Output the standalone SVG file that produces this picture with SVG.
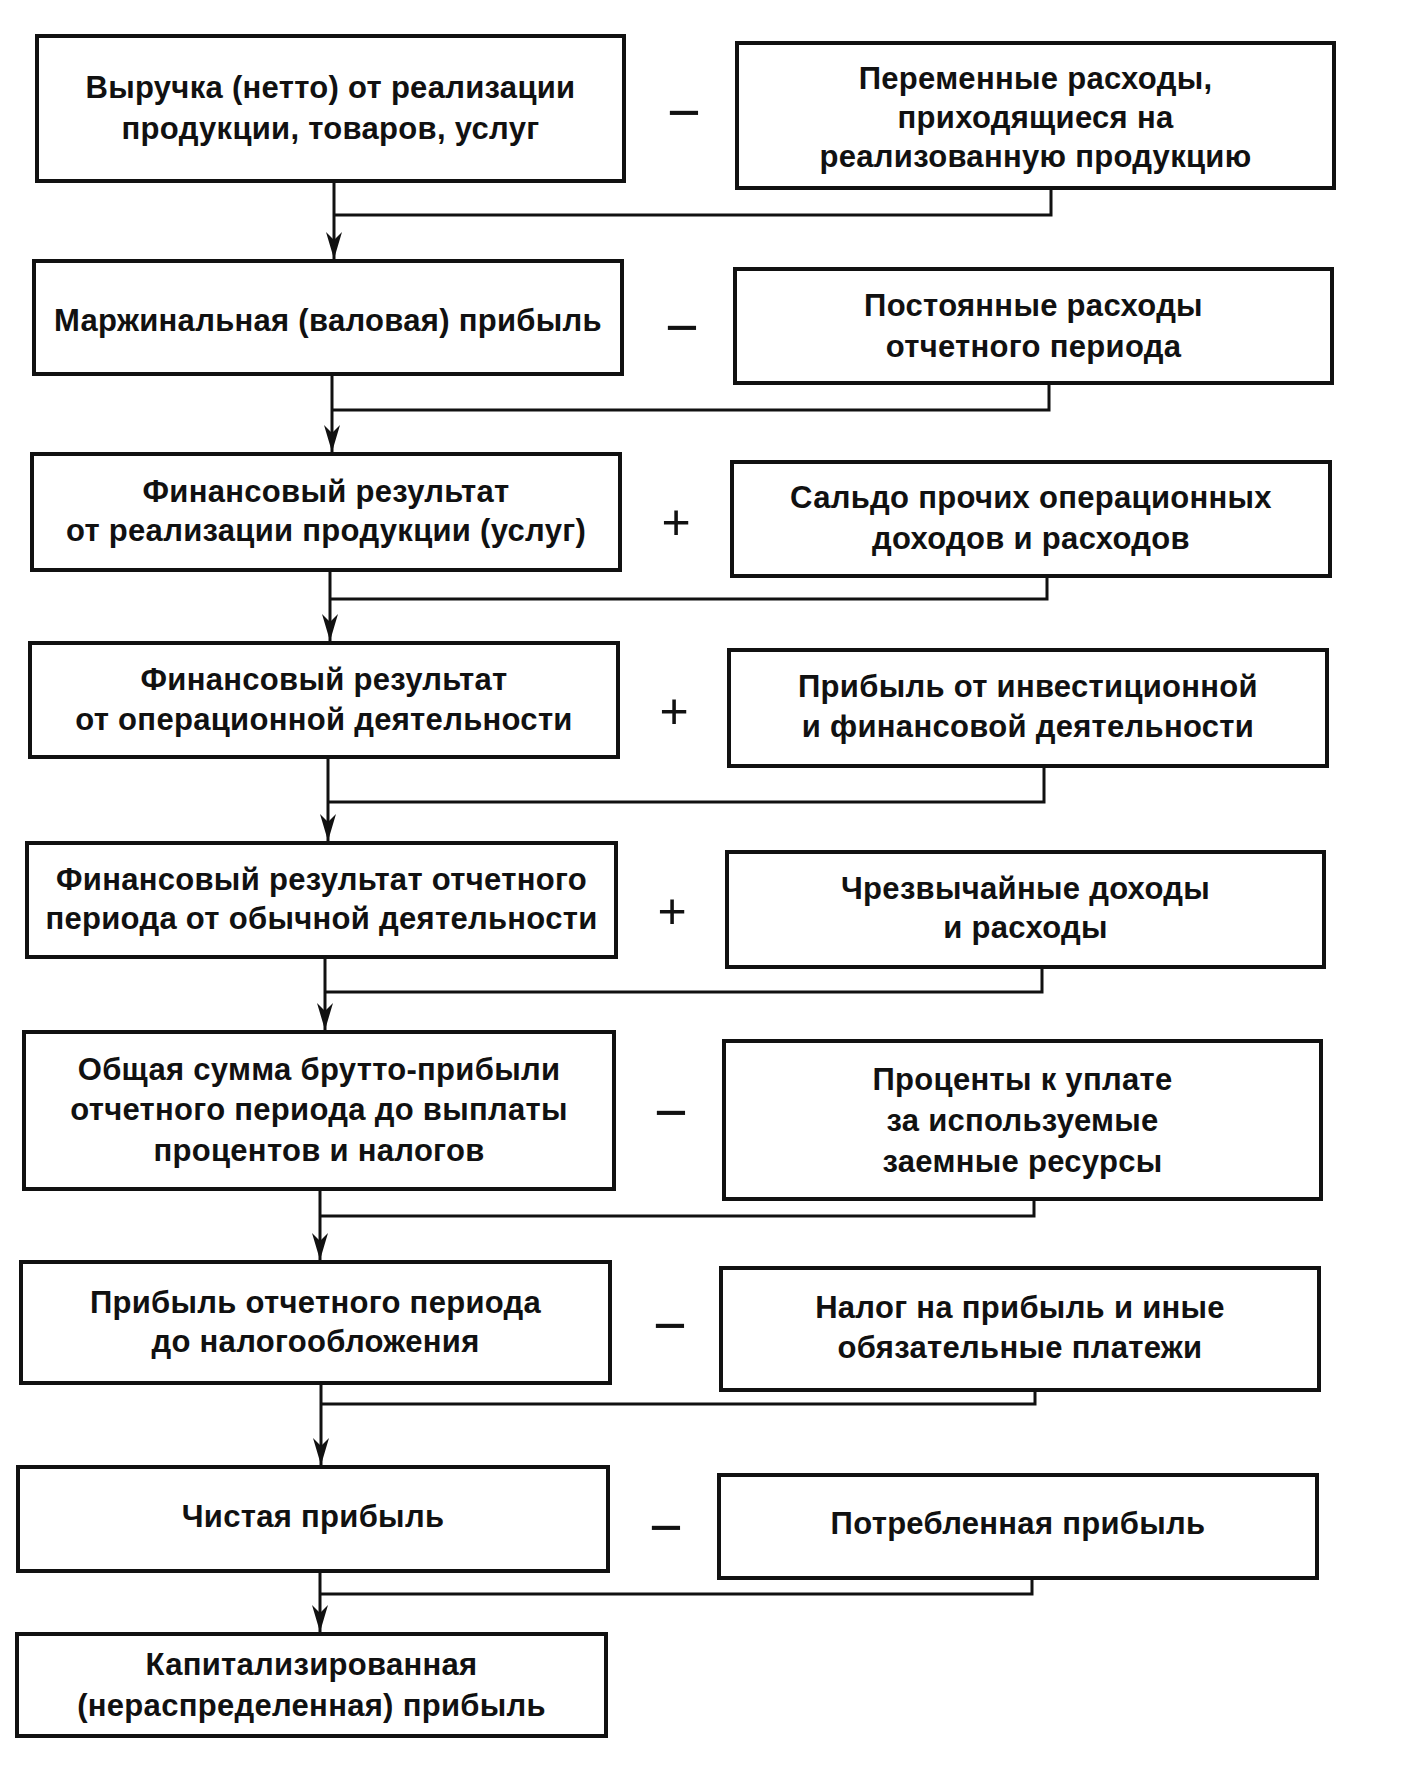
<svg xmlns="http://www.w3.org/2000/svg" width="1427" height="1772" viewBox="0 0 1427 1772">
<defs>
<style>
.box{fill:#fff;stroke:#111;stroke-width:4}
.t{font-family:"Liberation Sans","Arial",sans-serif;font-size:31px;font-weight:bold;letter-spacing:0.3px;fill:#111;text-anchor:middle}
.op{font-family:"Liberation Sans","Arial",sans-serif;fill:#111;text-anchor:middle}
.ln{fill:none;stroke:#111;stroke-width:3}
</style>
<marker id="arr" markerUnits="userSpaceOnUse" markerWidth="30" markerHeight="20" viewBox="-28 -10 30 20" refX="0" refY="0" orient="auto">
<path d="M-27,-8 L-19,0 L-27,8 L0,0 Z" fill="#111"/>
</marker>
</defs>
<rect width="1427" height="1772" fill="#fff"/>

<g id="connectors">
<path class="ln" d="M334,181 V259" marker-end="url(#arr)"/>
<path class="ln" d="M1051,188 V215 H334"/>
<path class="ln" d="M332,374 V452" marker-end="url(#arr)"/>
<path class="ln" d="M1049,383 V410 H332"/>
<path class="ln" d="M330,570 V641" marker-end="url(#arr)"/>
<path class="ln" d="M1047,576 V599 H330"/>
<path class="ln" d="M328,757 V841" marker-end="url(#arr)"/>
<path class="ln" d="M1044,766 V802 H328"/>
<path class="ln" d="M325,957 V1030" marker-end="url(#arr)"/>
<path class="ln" d="M1042,967 V992 H325"/>
<path class="ln" d="M320,1189 V1260" marker-end="url(#arr)"/>
<path class="ln" d="M1034,1199 V1216 H320"/>
<path class="ln" d="M321,1383 V1465" marker-end="url(#arr)"/>
<path class="ln" d="M1035,1390 V1404 H321"/>
<path class="ln" d="M320,1571 V1632" marker-end="url(#arr)"/>
<path class="ln" d="M1032,1578 V1594 H320"/>
</g>

<g id="L1"><rect class="box" x="37" y="36" width="587" height="145"/>
<text class="t" x="330.5" y="98">Выручка (нетто) от реализации</text>
<text class="t" x="330.5" y="139">продукции, товаров, услуг</text></g>
<g id="L2"><rect class="box" x="34" y="261" width="588" height="113"/>
<text class="t" x="328" y="331">Маржинальная (валовая) прибыль</text></g>
<g id="L3"><rect class="box" x="32" y="454" width="588" height="116"/>
<text class="t" x="326" y="502">Финансовый результат</text>
<text class="t" x="326" y="541">от реализации продукции (услуг)</text></g>
<g id="L4"><rect class="box" x="30" y="643" width="588" height="114"/>
<text class="t" x="324" y="690">Финансовый результат</text>
<text class="t" x="324" y="730">от операционной деятельности</text></g>
<g id="L5"><rect class="box" x="27" y="843" width="589" height="114"/>
<text class="t" x="321.5" y="890">Финансовый результат отчетного</text>
<text class="t" x="321.5" y="929">периода от обычной деятельности</text></g>
<g id="L6"><rect class="box" x="24" y="1032" width="590" height="157"/>
<text class="t" x="319" y="1080">Общая сумма брутто-прибыли</text>
<text class="t" x="319" y="1120">отчетного периода до выплаты</text>
<text class="t" x="319" y="1161">процентов и налогов</text></g>
<g id="L7"><rect class="box" x="21" y="1262" width="589" height="121"/>
<text class="t" x="315.5" y="1313">Прибыль отчетного периода</text>
<text class="t" x="315.5" y="1352">до налогообложения</text></g>
<g id="L8"><rect class="box" x="18" y="1467" width="590" height="104"/>
<text class="t" x="313" y="1527">Чистая прибыль</text></g>
<g id="L9"><rect class="box" x="17" y="1634" width="589" height="102"/>
<text class="t" x="311.5" y="1675">Капитализированная</text>
<text class="t" x="311.5" y="1716">(нераспределенная) прибыль</text></g>

<g id="R1"><rect class="box" x="737" y="43" width="597" height="145"/>
<text class="t" x="1035.5" y="89">Переменные расходы,</text>
<text class="t" x="1035.5" y="128">приходящиеся на</text>
<text class="t" x="1035.5" y="167">реализованную продукцию</text></g>
<g id="R2"><rect class="box" x="735" y="269" width="597" height="114"/>
<text class="t" x="1033.5" y="316">Постоянные расходы</text>
<text class="t" x="1033.5" y="357">отчетного периода</text></g>
<g id="R3"><rect class="box" x="732" y="462" width="598" height="114"/>
<text class="t" x="1031" y="508">Сальдо прочих операционных</text>
<text class="t" x="1031" y="549">доходов и расходов</text></g>
<g id="R4"><rect class="box" x="729" y="650" width="598" height="116"/>
<text class="t" x="1028" y="697">Прибыль от инвестиционной</text>
<text class="t" x="1028" y="737">и финансовой деятельности</text></g>
<g id="R5"><rect class="box" x="727" y="852" width="597" height="115"/>
<text class="t" x="1025.5" y="899">Чрезвычайные доходы</text>
<text class="t" x="1025.5" y="938">и расходы</text></g>
<g id="R6"><rect class="box" x="724" y="1041" width="597" height="158"/>
<text class="t" x="1022.5" y="1090">Проценты к уплате</text>
<text class="t" x="1022.5" y="1131">за используемые</text>
<text class="t" x="1022.5" y="1172">заемные ресурсы</text></g>
<g id="R7"><rect class="box" x="721" y="1268" width="598" height="122"/>
<text class="t" x="1020" y="1318">Налог на прибыль и иные</text>
<text class="t" x="1020" y="1358">обязательные платежи</text></g>
<g id="R8"><rect class="box" x="719" y="1475" width="598" height="103"/>
<text class="t" x="1018" y="1534">Потребленная прибыль</text></g>

<g id="operators">
<text class="op" x="684" y="132" font-size="58">−</text>
<text class="op" x="682" y="347" font-size="58">−</text>
<text class="op" x="676" y="539" font-size="50">+</text>
<text class="op" x="674" y="728" font-size="50">+</text>
<text class="op" x="672" y="928" font-size="50">+</text>
<text class="op" x="671" y="1132" font-size="58">−</text>
<text class="op" x="670" y="1345" font-size="58">−</text>
<text class="op" x="666" y="1547" font-size="58">−</text>
</g>
</svg>
